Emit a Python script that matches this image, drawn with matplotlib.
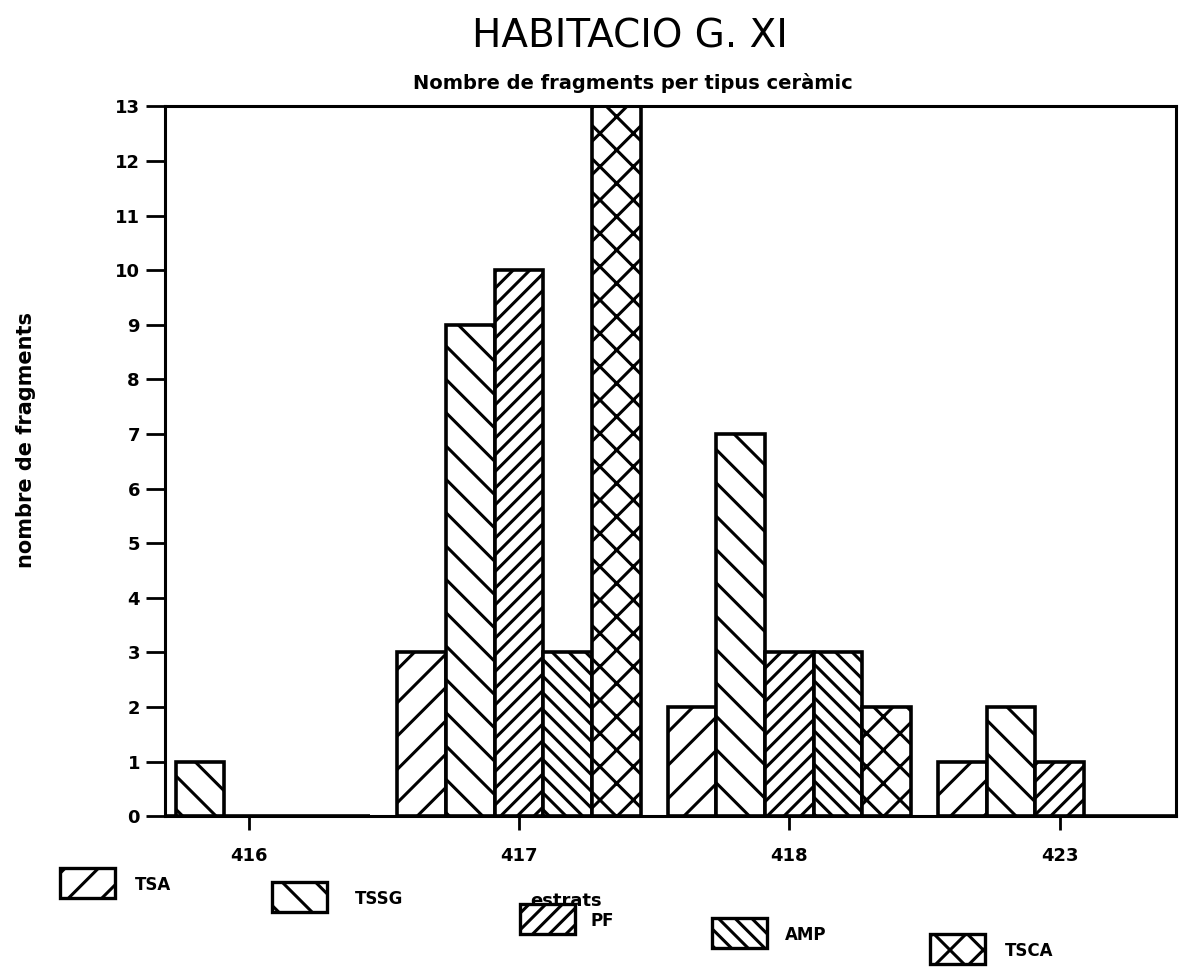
import numpy as np
import matplotlib
matplotlib.use('Agg')
import matplotlib.pyplot as plt
from matplotlib.patches import Rectangle

# data
estrats = ['416', '417', '418', '423']
series = ['TSA', 'TSSG', 'PF', 'AMP', 'TSCA']
tsa = [0, 3, 2, 1]
tssg = [1, 9, 7, 2]
pf = [0, 10, 3, 1]
amp = [0, 3, 3, 0]
tsca = [0, 13, 2, 0]
y_ticks = list(range(0, 14))

values = [tsa, tssg, pf, amp, tsca]
hatches = ['//', '\\\\', '////', '\\\\\\\\', 'xx']

plt.rcParams['hatch.linewidth'] = 1.1
plt.rcParams['font.family'] = 'DejaVu Sans'

# small inch size + high dpi keeps hatch lines as sparse as the plotter output
fig = plt.figure(figsize=(6, 4.835), dpi=200)
ax = fig.add_axes([0.1375, 0.156, 0.8425, 0.734])

x = np.arange(len(estrats))
w = 0.18
for i, (name, vals) in enumerate(zip(series, values)):
    ax.bar(x + (i - 2) * w, vals, w, facecolor='white', edgecolor='black',
           linewidth=1.3, hatch=hatches[i], label=name)

ax.set_xlim(-0.31, 3.43)
ax.set_ylim(0, 13)
ax.set_yticks(y_ticks)
ax.set_xticks(x)
ax.set_xticklabels(estrats)
for lab in ax.get_yticklabels() + ax.get_xticklabels():
    lab.set_fontweight('bold')
    lab.set_fontsize(6.5)
ax.tick_params(axis='y', direction='out', length=7, width=1.0, pad=2)
ax.tick_params(axis='x', direction='out', length=5, width=1.0, pad=6)
for sp in ax.spines.values():
    sp.set_linewidth(1.1)

fig.text(0.525, 0.962, 'HABITACIO G. XI', ha='center', va='center', fontsize=14)
fig.text(0.527, 0.914, 'Nombre de fragments per tipus ceràmic', ha='center',
         va='center', fontsize=7, fontweight='bold')
fig.text(0.022, 0.545, 'nombre de fragments', rotation=90, ha='center',
         va='center', fontsize=7.5, fontweight='bold')
fig.text(0.472, 0.068, 'estrats', ha='center', va='center', fontsize=6.5,
         fontweight='bold')

# legend entries scattered along the bottom, as in the original
leg_pos = [(60, 868, 135), (272, 882, 355), (520, 904, 590), (712, 918, 785), (930, 934, 1005)]
W, H = 1200.0, 967.0
for (bx, by, tx), name, h in zip(leg_pos, series, hatches):
    r = Rectangle((bx / W, 1 - (by + 30) / H), 55 / W, 30 / H, transform=fig.transFigure,
                  facecolor='white', edgecolor='black', linewidth=1.2, hatch=h)
    fig.add_artist(r)
    fig.text(tx / W, 1 - (by + 17) / H, name, ha='left', va='center', fontsize=6,
             fontweight='bold')

fig.savefig('out.png', dpi=200, facecolor='white')
